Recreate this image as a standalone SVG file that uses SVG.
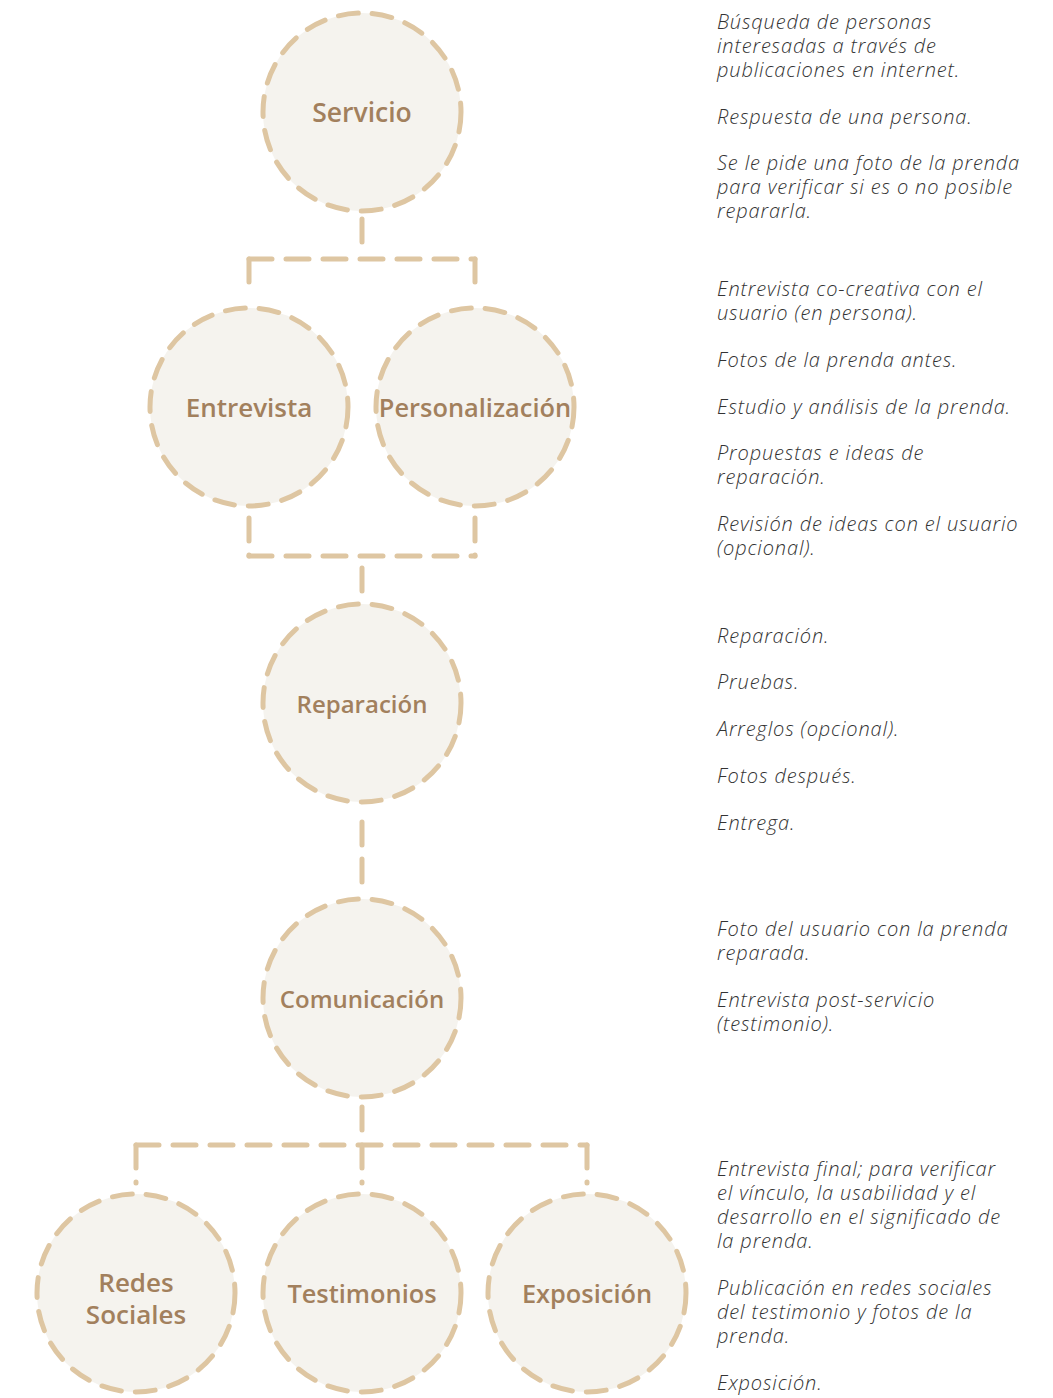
<svg xmlns="http://www.w3.org/2000/svg" width="1053" height="1398" viewBox="0 0 1053 1398">
<style>
.node circle{fill:#f5f3ee;stroke:#dec6a2;stroke-width:5;stroke-dasharray:20 14;stroke-linecap:round}
.node text{font-family:"Open Sans","Noto Sans",sans-serif;font-weight:600;fill:#a2805d;text-anchor:middle;dominant-baseline:central}
#connectors path{fill:none;stroke:#dec6a2;stroke-width:5;stroke-dasharray:23 14;stroke-linecap:round}
.note{font-family:"Open Sans","Noto Sans",sans-serif;font-style:italic;font-weight:300;font-size:20px;letter-spacing:0.85px;fill:#333}
</style>
<rect width="1053" height="1398" fill="#ffffff"/>
<g id="connectors">
<path d="M362 219V247"/>
<path d="M249 259H475"/>
<path d="M249 259V296M475 259V296"/>
<path d="M249 518V556M475 518V556"/>
<path d="M249 556H475"/>
<path d="M362 568V596"/>
<path d="M362 822V885"/>
<path d="M362 1107V1133"/>
<path d="M136 1145H587"/>
<path d="M136 1145V1183M362 1145V1183M587 1145V1183"/>
</g>
<g id="n-servicio" class="node"><circle cx="362" cy="112" r="99"/><text x="362" y="112" font-size="26.5">Servicio</text></g>
<g id="n-entrevista" class="node"><circle cx="249" cy="407" r="99"/><text x="249" y="407" font-size="26">Entrevista</text></g>
<g id="n-personalizacion" class="node"><circle cx="475" cy="407" r="99"/><text x="475" y="407" font-size="25.4">Personalización</text></g>
<g id="n-reparacion" class="node"><circle cx="362" cy="703" r="99"/><text x="362" y="703" font-size="24">Reparación</text></g>
<g id="n-comunicacion" class="node"><circle cx="362" cy="998" r="99"/><text x="362" y="998" font-size="24">Comunicación</text></g>
<g id="n-redes" class="node"><circle cx="136" cy="1293" r="99"/><text x="136" y="1282" font-size="26">Redes</text><text x="136" y="1314" font-size="26">Sociales</text></g>
<g id="n-testimonios" class="node"><circle cx="362" cy="1293" r="99"/><text x="362" y="1293" font-size="25.4">Testimonios</text></g>
<g id="n-exposicion" class="node"><circle cx="587" cy="1293" r="99"/><text x="587" y="1293" font-size="25.4">Exposición</text></g>
<g id="notes" class="note">
<text x="717" y="29">Búsqueda de personas</text>
<text x="717" y="53">interesadas a través de</text>
<text x="717" y="77">publicaciones en internet.</text>
<text x="717" y="124">Respuesta de una persona.</text>
<text x="717" y="170">Se le pide una foto de la prenda</text>
<text x="717" y="194">para verificar si es o no posible</text>
<text x="717" y="218">repararla.</text>
<text x="717" y="296">Entrevista co-creativa con el</text>
<text x="717" y="320">usuario (en persona).</text>
<text x="717" y="367">Fotos de la prenda antes.</text>
<text x="717" y="414">Estudio y análisis de la prenda.</text>
<text x="717" y="460">Propuestas e ideas de</text>
<text x="717" y="484">reparación.</text>
<text x="717" y="531">Revisión de ideas con el usuario</text>
<text x="717" y="555">(opcional).</text>
<text x="717" y="643">Reparación.</text>
<text x="717" y="689">Pruebas.</text>
<text x="717" y="736">Arreglos (opcional).</text>
<text x="717" y="783">Fotos después.</text>
<text x="717" y="830">Entrega.</text>
<text x="717" y="936">Foto del usuario con la prenda</text>
<text x="717" y="960">reparada.</text>
<text x="717" y="1007">Entrevista post-servicio</text>
<text x="717" y="1031">(testimonio).</text>
<text x="717" y="1176">Entrevista final; para verificar</text>
<text x="717" y="1200">el vínculo, la usabilidad y el</text>
<text x="717" y="1224">desarrollo en el significado de</text>
<text x="717" y="1248">la prenda.</text>
<text x="717" y="1295">Publicación en redes sociales</text>
<text x="717" y="1319">del testimonio y fotos de la</text>
<text x="717" y="1343">prenda.</text>
<text x="717" y="1390">Exposición.</text>
</g>
</svg>
